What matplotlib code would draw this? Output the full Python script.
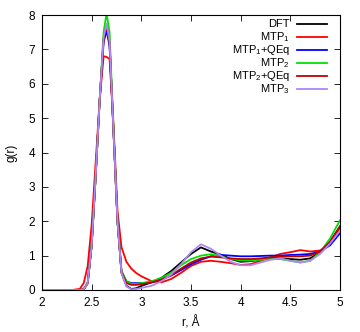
import numpy as np
import matplotlib
matplotlib.use("Agg")
import matplotlib.pyplot as plt

plt.rcParams['font.family'] = ['Liberation Sans', 'DejaVu Sans']
plt.rcParams['mathtext.fontset'] = 'custom'
plt.rcParams['mathtext.rm'] = 'Liberation Sans'
plt.rcParams['mathtext.it'] = 'Liberation Sans'

# r grid (Angstrom)
r = [2.0, 2.3, 2.38, 2.42, 2.46, 2.5, 2.54, 2.58, 2.62, 2.65, 2.68, 2.72, 2.76, 2.8,
     2.85, 2.9, 2.95, 3.0, 3.1, 3.2, 3.3, 3.4, 3.5, 3.6, 3.7, 3.8, 3.9, 4.0,
     4.1, 4.2, 4.3, 4.4, 4.5, 4.6, 4.7, 4.8, 4.9, 5.0]

# g(r) for each model
g_dft = [0, 0, 0, 0.02, 0.2, 1.3, 3.3, 5.5, 7.3, 7.65, 7.2, 4.6, 2.0, 0.5,
         0.12, 0.03, 0.05, 0.12, 0.22, 0.35, 0.55, 0.8, 1.05, 1.24, 1.12, 1.03, 0.9, 0.82,
         0.84, 0.88, 0.92, 0.92, 0.9, 0.88, 0.92, 1.1, 1.4, 1.85]
g_mtp1 = [0, 0, 0.03, 0.2, 0.7, 1.9, 3.7, 5.5, 6.8, 6.78, 6.72, 4.8, 2.3, 1.25,
          0.82, 0.62, 0.49, 0.4, 0.26, 0.22, 0.32, 0.5, 0.7, 0.82, 0.85, 0.82, 0.78, 0.73,
          0.75, 0.85, 0.95, 1.05, 1.1, 1.16, 1.12, 1.15, 1.35, 1.8]
g_mtp1_qeq = [0, 0, 0, 0.02, 0.2, 1.3, 3.3, 5.5, 7.2, 7.55, 7.1, 4.6, 2.0, 0.55,
              0.25, 0.2, 0.2, 0.2, 0.22, 0.3, 0.42, 0.58, 0.75, 0.88, 0.98, 1.02, 1.0, 0.98,
              0.98, 0.99, 1.0, 1.0, 1.02, 1.03, 1.05, 1.12, 1.3, 1.65]
g_mtp2 = [0, 0, 0, 0.02, 0.2, 1.3, 3.3, 5.5, 7.5, 8.05, 7.5, 4.7, 2.0, 0.55,
          0.25, 0.18, 0.18, 0.2, 0.25, 0.35, 0.5, 0.72, 0.9, 1.0, 1.04, 0.98, 0.9, 0.86,
          0.86, 0.88, 0.9, 0.9, 0.85, 0.8, 0.85, 1.1, 1.5, 2.03]
g_mtp2_qeq = [0, 0, 0, 0.02, 0.2, 1.3, 3.3, 5.5, 7.3, 7.7, 7.2, 4.6, 2.0, 0.52,
              0.2, 0.15, 0.15, 0.17, 0.22, 0.3, 0.43, 0.62, 0.8, 0.92, 0.97, 0.95, 0.92, 0.9,
              0.9, 0.92, 0.95, 0.97, 0.98, 0.98, 1.0, 1.12, 1.4, 1.85]
g_mtp3 = [0, 0, 0, 0.02, 0.2, 1.3, 3.3, 5.5, 7.35, 7.75, 7.25, 4.6, 2.0, 0.5,
          0.1, 0.02, 0.03, 0.06, 0.12, 0.25, 0.45, 0.75, 1.1, 1.33, 1.2, 1.0, 0.82, 0.72,
          0.72, 0.8, 0.88, 0.92, 0.85, 0.8, 0.85, 1.05, 1.35, 1.73]

labels = ['DFT', 'MTP$_1$', 'MTP$_1$+QEq', 'MTP$_2$', 'MTP$_2$+QEq', 'MTP$_3$']
colors = ['#000000', '#ff0000', '#0000ff', '#00e000', '#c00000', '#b088f0']
series = [g_dft, g_mtp1, g_mtp1_qeq, g_mtp2, g_mtp2_qeq, g_mtp3]

fig = plt.figure(figsize=(3.6, 3.32), dpi=100)
ax = fig.add_axes([42 / 360, 42 / 332, 298 / 360, 275 / 332])

for g, c in zip(series, colors):
    ax.plot(r, g, color=c, lw=1.3)

ax.set_xlim(2, 5)
ax.set_ylim(0, 8)
ax.set_xticks(np.arange(2, 5.01, 0.5))
ax.set_xticklabels(['2', '2.5', '3', '3.5', '4', '4.5', '5'])
ax.set_yticks(range(0, 9))
ax.tick_params(direction='in', top=True, right=True, length=4, width=0.6, labelsize=8.5, pad=5)
for s in ax.spines.values():
    s.set_linewidth(0.8)

ax.set_xlabel('r, Å', fontsize=8.5, labelpad=5)
ax.set_ylabel('g(r)', fontsize=8.5, labelpad=8)

# legend drawn by hand: right-aligned text, then line sample
row_y = [24.3, 37.3, 50.3, 63, 76, 89]
for lab, c, y in zip(labels, colors, row_y):
    fy = (290 - y) / 275
    ax.text(0.832, fy, lab, transform=ax.transAxes, ha='right', va='center', fontsize=8)
    ax.plot([0.856, 0.956], [fy, fy], transform=ax.transAxes, color=c, lw=1.3)

fig.savefig('out.png', dpi=100)
